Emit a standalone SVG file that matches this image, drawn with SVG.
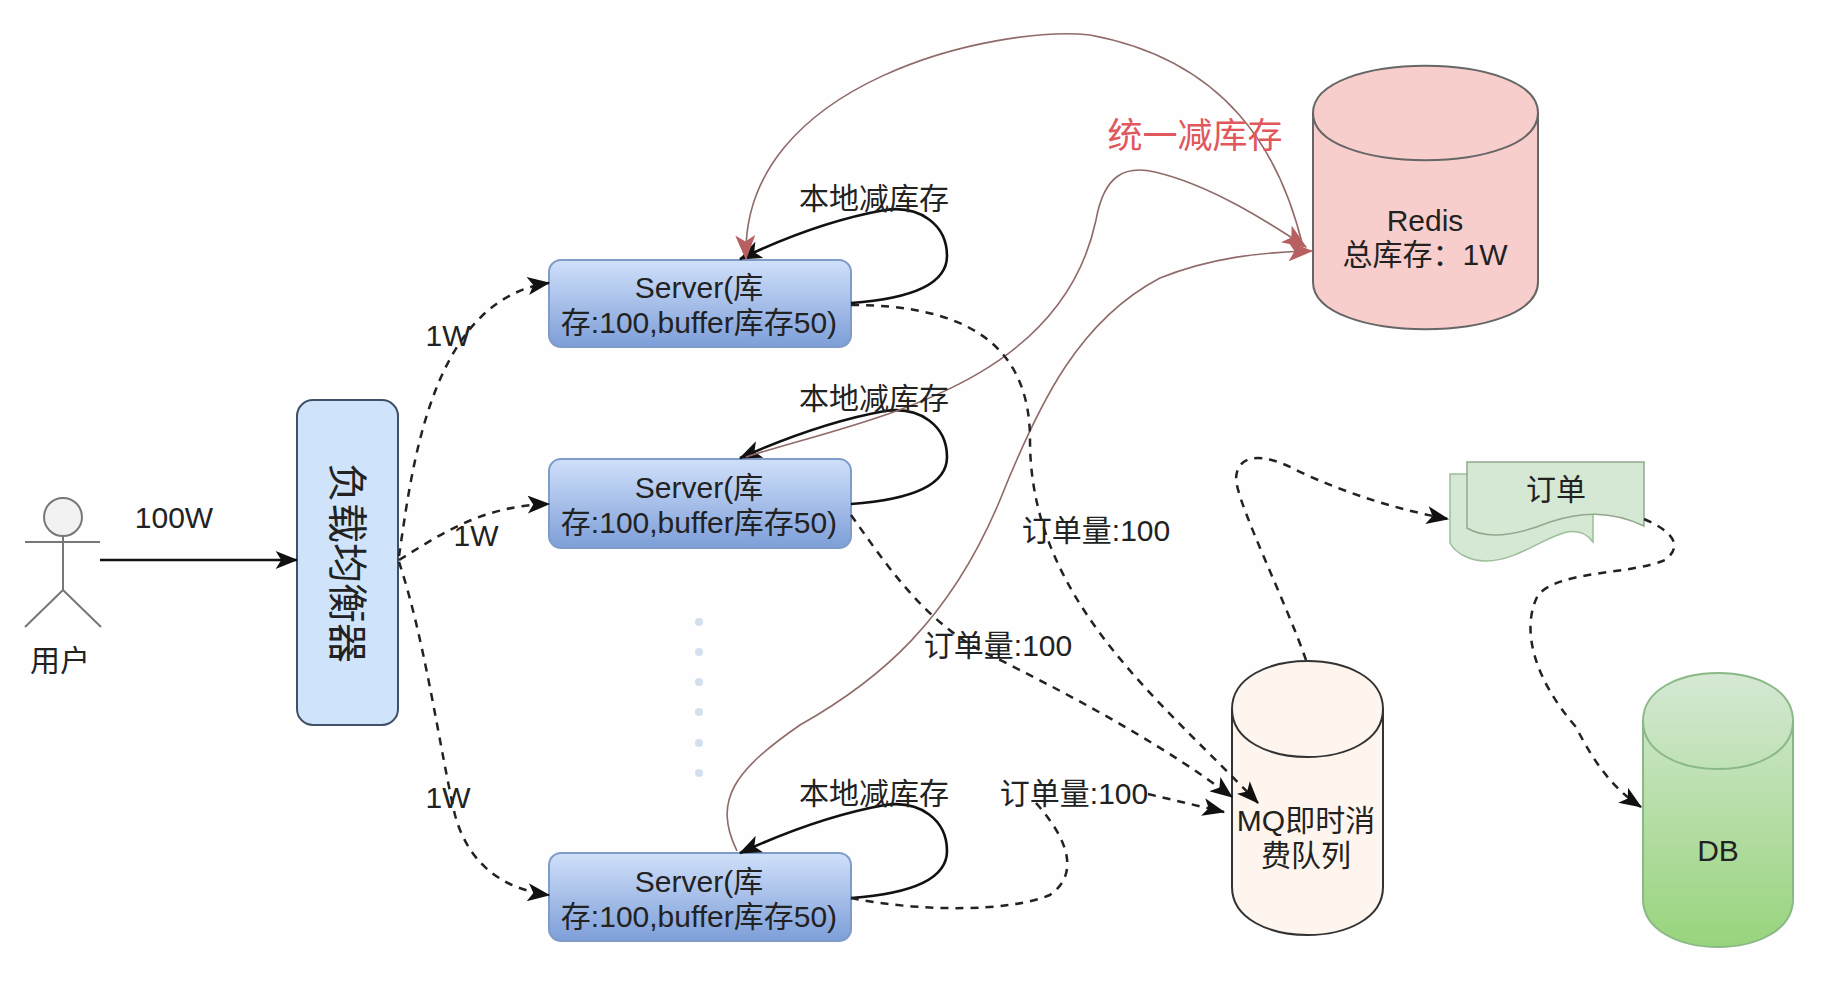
<svg xmlns="http://www.w3.org/2000/svg" width="1828" height="1004" viewBox="0 0 1828 1004">
<style>
text{font-family:"Liberation Sans","Noto Sans CJK SC",sans-serif;fill:#222;font-size:30px;text-anchor:middle}
.srv{fill:url(#sg);stroke:#7f9bc8;stroke-width:2}
.solid{fill:none;stroke:#111;stroke-width:2.6}
.dash{fill:none;stroke:#222;stroke-width:2.5;stroke-dasharray:8 7}
.red{fill:none;stroke:#8f6a68;stroke-width:1.6}
.cyl{stroke:#666;stroke-width:2}
</style>
<defs>
<linearGradient id="sg" x1="0" y1="0" x2="0" y2="1"><stop offset="0" stop-color="#d0e0fa"/><stop offset="1" stop-color="#7d9ed8"/></linearGradient>
<linearGradient id="dg" x1="0" y1="0" x2="0" y2="1"><stop offset="0" stop-color="#d5e8d4"/><stop offset="1" stop-color="#98d47c"/></linearGradient>
<marker id="a" viewBox="0 0 20 16" refX="19" refY="8" markerWidth="23" markerHeight="18" markerUnits="userSpaceOnUse" orient="auto"><path d="M0 0L20 8L0 16L5 8Z" fill="#111"/></marker>
<marker id="r" viewBox="0 0 20 16" refX="19" refY="8" markerWidth="25" markerHeight="20" markerUnits="userSpaceOnUse" orient="auto"><path d="M0 0L20 8L0 16L5 8Z" fill="#b85f62"/></marker>
</defs>
<rect width="1828" height="1004" fill="#fefefe"/>
<g id="user">
<circle cx="63" cy="517" r="19" fill="#f2f2f2" stroke="#777" stroke-width="2"/>
<path d="M63 536V590M25 542H100M63 590L25 627M63 590L101 627" fill="none" stroke="#777" stroke-width="2"/>
<text x="60" y="671" font-size="27">用户</text>
</g>
<g id="lb">
<rect x="297" y="400" width="101" height="325" rx="16" fill="#cfe4fa" stroke="#3f5166" stroke-width="2"/>
<text transform="translate(347 563) rotate(90)" y="14" style="font-size:40px">负载均衡器</text>
</g>
<g id="server1"><rect class="srv" x="549" y="260" width="302" height="87" rx="12"/>
<text x="699" y="298">Server(库</text><text x="699" y="333">存:100,buffer库存50)</text></g>
<g id="server2"><rect class="srv" x="549" y="459" width="302" height="89" rx="12"/>
<text x="699" y="498">Server(库</text><text x="699" y="533">存:100,buffer库存50)</text></g>
<g id="server3"><rect class="srv" x="549" y="853" width="302" height="88" rx="12"/>
<text x="699" y="892">Server(库</text><text x="699" y="927">存:100,buffer库存50)</text></g>
<g id="dots" fill="#d3dfee"><circle cx="699" cy="622" r="4"/><circle cx="699" cy="652" r="4"/><circle cx="699" cy="682" r="4"/><circle cx="699" cy="712" r="4"/><circle cx="699" cy="743" r="4"/><circle cx="699" cy="773" r="4"/></g>
<g id="redis">
<path class="cyl" fill="#f8cecc" d="M1313 113C1313 50 1538 50 1538 113V282C1538 345 1313 345 1313 282Z"/>
<path class="cyl" fill="none" d="M1313 113C1313 176 1538 176 1538 113"/>
<text x="1425" y="231">Redis</text><text x="1425" y="265">总库存：1W</text>
</g>
<g id="mq">
<path fill="#fdf5ee" stroke="#333" stroke-width="2" d="M1232 709C1232 645 1383 645 1383 709V887C1383 951 1232 951 1232 887Z"/>
<path fill="none" stroke="#333" stroke-width="2" d="M1232 709C1232 773 1383 773 1383 709"/>
<text x="1306" y="831">MQ即时消</text><text x="1306" y="866">费队列</text>
</g>
<g id="order">
<path fill="#d5e8d4" stroke="#9cbf9a" stroke-width="1.5" d="M1450 474H1593V542C1570 510 1530 561 1486 561C1470 561 1455 553 1450 543Z"/>
<path fill="#d5e8d4" stroke="#8fa98d" stroke-width="1.5" d="M1467 462H1644V526C1610 510 1580 512 1550 522C1525 532 1490 542 1467 528Z"/>
<text x="1556" y="500">订单</text>
</g>
<g id="db">
<path fill="url(#dg)" stroke="#8ab886" stroke-width="2" d="M1643 721C1643 657 1793 657 1793 721V899C1793 963 1643 963 1643 899Z"/>
<path fill="none" stroke="#8ab886" stroke-width="2" d="M1643 721C1643 785 1793 785 1793 721"/>
<text x="1718" y="861">DB</text>
</g>
<g id="connectors">
<path class="solid" marker-end="url(#a)" d="M100 560H297"/>
<path class="dash" marker-end="url(#a)" d="M399 556C412 470 430 300 549 283"/>
<path class="dash" marker-end="url(#a)" d="M399 560C440 535 480 506 549 504"/>
<path class="dash" marker-end="url(#a)" d="M399 562C425 640 440 750 455 815C470 870 510 890 549 895"/>
<path class="solid" marker-end="url(#a)" d="M851 303C920 298 947 280 947 256C947 225 920 205 885 210C840 218 790 235 740 259"/>
<path class="solid" marker-end="url(#a)" d="M851 504C920 499 947 481 947 457C947 426 920 406 885 411C840 419 790 436 740 458"/>
<path class="solid" marker-end="url(#a)" d="M851 898C920 893 947 875 947 851C947 820 920 800 885 805C840 813 790 830 740 853"/>
<path class="red" marker-end="url(#r)" d="M1303 247C1280 150 1225 60 1090 35C1000 25 740 80 746 259"/>
<path class="red" marker-end="url(#r)" d="M746 457C860 420 1060 390 1096 220C1104 175 1125 165 1155 172C1210 185 1265 220 1306 247"/>
<path class="red" marker-end="url(#r)" d="M737 851C712 800 735 770 800 725C880 680 950 620 1000 500C1040 400 1080 320 1160 278C1210 258 1260 252 1312 251"/>
<path class="dash" marker-end="url(#a)" d="M851 305C960 305 1030 340 1030 440C1030 600 1160 700 1258 803"/>
<path class="dash" marker-end="url(#a)" d="M851 515C890 570 930 630 1000 660C1090 705 1170 750 1232 797"/>
<path class="dash" d="M851 898C920 912 1010 912 1050 895C1085 870 1060 830 1036 803"/>
<path class="dash" marker-end="url(#a)" d="M1148 794L1224 812"/>
<path class="dash" marker-end="url(#a)" d="M1306 660C1285 600 1240 510 1236 480C1236 455 1260 450 1300 472C1350 495 1400 510 1448 519"/>
<path class="dash" marker-end="url(#a)" d="M1644 519C1670 530 1685 545 1665 560C1630 575 1560 570 1538 595C1520 630 1535 680 1576 727C1595 765 1615 790 1641 807"/>
</g>
<text x="174" y="528">100W</text>
<text x="448" y="346">1W</text>
<text x="476" y="546">1W</text>
<text x="448" y="808">1W</text>
<text x="874" y="209">本地减库存</text>
<text x="874" y="409">本地减库存</text>
<text x="874" y="804">本地减库存</text>
<text x="1096" y="541">订单量:100</text>
<text x="998" y="656">订单量:100</text>
<text x="1074" y="804">订单量:100</text>
<text x="1195" y="148" style="font-size:35px;fill:#e0575c">统一减库存</text>
</svg>
